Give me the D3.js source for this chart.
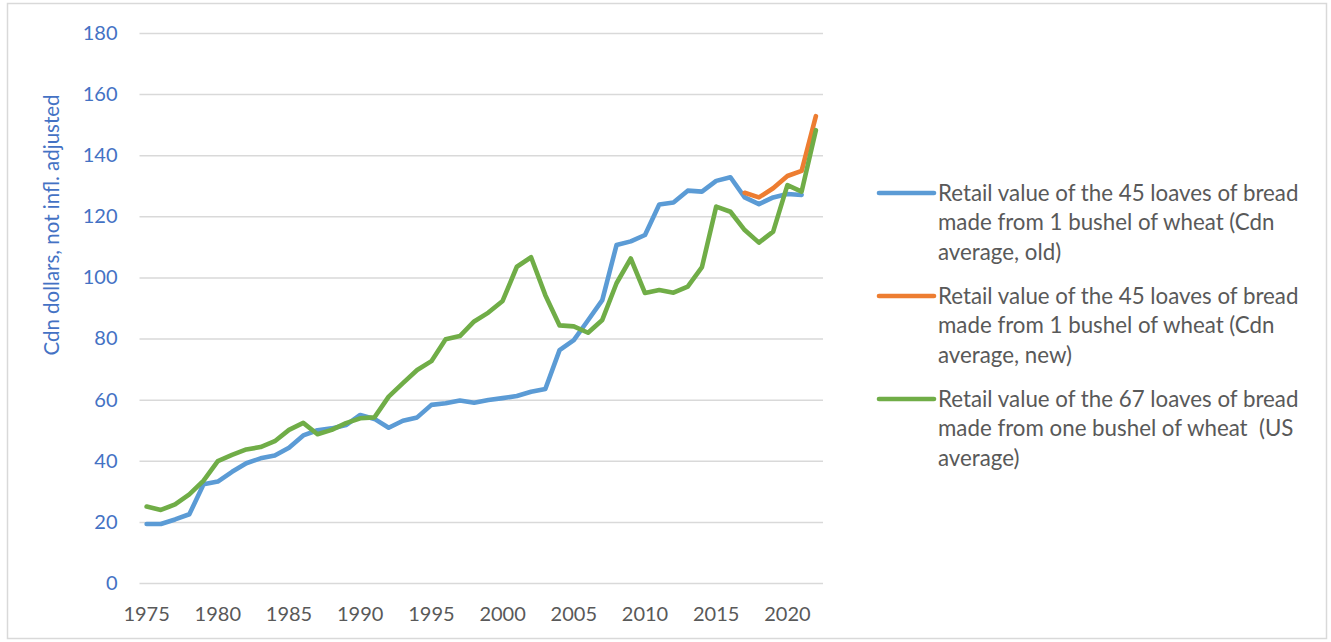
<!DOCTYPE html>
<html>
<head>
<meta charset="utf-8">
<script src="https://cdn.jsdelivr.net/npm/d3@7"></script>
<style>
  html, body { margin: 0; padding: 0; background: #ffffff; }
  svg { display: block; font-family: Lato, "Open Sans", sans-serif; }
</style>
</head>
<body>
<svg id="chart" width="1331" height="642"></svg>
<script>
// Years on the category axis
const years = [1975, 1976, 1977, 1978, 1979, 1980, 1981, 1982, 1983, 1984,
  1985, 1986, 1987, 1988, 1989, 1990, 1991, 1992, 1993, 1994,
  1995, 1996, 1997, 1998, 1999, 2000, 2001, 2002, 2003, 2004,
  2005, 2006, 2007, 2008, 2009, 2010, 2011, 2012, 2013, 2014,
  2015, 2016, 2017, 2018, 2019, 2020, 2021, 2022];

// Retail value of 45 loaves (Cdn average, old series)
const cdnOld = [19.3, 19.3, 20.8, 22.5, 32.3, 33.2, 36.4, 39.2, 40.8, 41.7,
  44.3, 48.3, 50.0, 50.6, 51.7, 55.0, 53.7, 50.8, 53.1, 54.2,
  58.3, 58.8, 59.7, 59.0, 59.9, 60.5, 61.2, 62.6, 63.5, 76.2,
  79.5, 86.0, 92.6, 110.6, 111.8, 113.9, 123.9, 124.5, 128.4, 128.1,
  131.6, 132.8, 126.2, 124.0, 126.2, 127.3, 127.0, null];

// Retail value of 45 loaves (Cdn average, new series)
const cdnNew = [null, null, null, null, null, null, null, null, null, null,
  null, null, null, null, null, null, null, null, null, null,
  null, null, null, null, null, null, null, null, null, null,
  null, null, null, null, null, null, null, null, null, null,
  null, null, 127.7, 126.2, 129.2, 133.2, 134.9, 152.8];

// Retail value of 67 loaves (US average)
const usAvg = [25.0, 23.9, 25.7, 29.0, 33.5, 39.9, 41.9, 43.7, 44.5, 46.4,
  50.1, 52.4, 48.7, 50.1, 52.3, 53.9, 54.2, 61.0, 65.4, 69.7,
  72.6, 79.8, 80.8, 85.6, 88.5, 92.3, 103.5, 106.6, 94.2, 84.3,
  84.0, 81.9, 86.1, 98.1, 106.2, 94.9, 95.9, 95.0, 97.0, 103.4,
  123.2, 121.5, 115.5, 111.4, 115.0, 130.2, 128.1, 148.2];

const yTicks = [0, 20, 40, 60, 80, 100, 120, 140, 160, 180];
const xTickYears = [1975, 1980, 1985, 1990, 1995, 2000, 2005, 2010, 2015, 2020];

const seriesNames = [
  ["Retail value of the 45 loaves of bread", "made from 1 bushel of wheat (Cdn", "average, old)"],
  ["Retail value of the 45 loaves of bread", "made from 1 bushel of wheat (Cdn", "average, new)"],
  ["Retail value of the 67 loaves of bread", "made from one bushel of wheat  (US", "average)"]
];
const seriesColors = ["#5B9BD5", "#ED7D31", "#70AD47"];

const svg = d3.select("#chart");

// Outer chart frame
svg.append("rect")
  .attr("x", 7.5).attr("y", 3.5)
  .attr("width", 1319).attr("height", 635)
  .attr("fill", "#ffffff")
  .attr("stroke", "#d9d9d9").attr("stroke-width", 1.5);

const plot = { left: 139.5, right: 823, top: 33, bottom: 583 };

const x = d3.scaleBand().domain(years).range([plot.left, plot.right]).padding(0);
const xc = yr => x(yr) + x.bandwidth() / 2;
const y = d3.scaleLinear().domain([0, 180]).range([plot.bottom, plot.top]);

// Horizontal gridlines
svg.append("g")
  .attr("transform", `translate(${plot.left},0)`)
  .call(d3.axisLeft(y).tickValues(yTicks).tickSize(-(plot.right - plot.left)).tickFormat(""))
  .call(g => g.select(".domain").remove())
  .call(g => g.selectAll("line").attr("stroke", "#d9d9d9").attr("stroke-width", 1.5));

// Y tick labels
svg.append("g")
  .attr("transform", `translate(${plot.left},0)`)
  .call(d3.axisLeft(y).tickValues(yTicks).tickSize(0).tickPadding(22))
  .call(g => g.select(".domain").remove())
  .call(g => g.selectAll("text")
    .attr("fill", "#4472C4")
    .style("font-family", "Lato, sans-serif")
    .style("font-size", "20px"));

// X tick labels
svg.append("g")
  .attr("transform", `translate(0,${plot.bottom})`)
  .call(d3.axisBottom(x).tickValues(xTickYears).tickSize(0).tickPadding(24))
  .call(g => g.select(".domain").remove())
  .call(g => g.selectAll("text")
    .attr("fill", "#595959")
    .style("font-family", "Lato, sans-serif")
    .style("font-size", "20px"));

// Y axis title
svg.append("text")
  .attr("transform", "translate(59,225) rotate(-90)")
  .attr("text-anchor", "middle")
  .attr("fill", "#4472C4")
  .style("font-size", "20.5px")
  .text("Cdn dollars, not infl. adjusted");

// Series lines
const line = d3.line()
  .defined(d => d.v !== null)
  .x(d => xc(d.year))
  .y(d => y(d.v));

[cdnOld, cdnNew, usAvg].forEach((vals, i) => {
  const pts = years.map((yr, j) => ({ year: yr, v: vals[j] }));
  svg.append("path")
    .datum(pts)
    .attr("fill", "none")
    .attr("stroke", seriesColors[i])
    .attr("stroke-width", 4.6)
    .attr("stroke-linejoin", "round")
    .attr("stroke-linecap", "round")
    .attr("d", line);
});

// Legend
const legendTop = [193, 296, 399];
const lineGap = 29.5;
seriesNames.forEach((lines, i) => {
  const g = svg.append("g");
  g.append("line")
    .attr("x1", 879).attr("x2", 934)
    .attr("y1", legendTop[i]).attr("y2", legendTop[i])
    .attr("stroke", seriesColors[i])
    .attr("stroke-width", 4.6)
    .attr("stroke-linecap", "round");
  lines.forEach((t, k) => {
    g.append("text")
      .attr("x", 938)
      .attr("y", legendTop[i] + k * lineGap)
      .attr("dy", "0.35em")
      .attr("fill", "#595959")
      .style("font-size", "22.3px")
      .style("white-space", "pre")
      .text(t);
  });
});
</script>
</body>
</html>
